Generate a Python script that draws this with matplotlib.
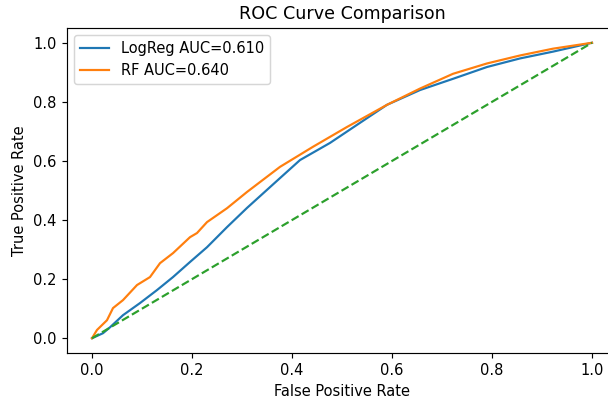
import matplotlib
matplotlib.use("Agg")
import matplotlib.pyplot as plt

# ROC points
fpr_lr = [0.0, 0.022, 0.036, 0.062, 0.096, 0.13, 0.162, 0.196, 0.23, 0.27, 0.31,
          0.376, 0.416, 0.476, 0.536, 0.59, 0.656, 0.722, 0.79, 0.856, 0.922, 1.0]
tpr_lr = [0.0, 0.017, 0.037, 0.078, 0.119, 0.163, 0.207, 0.258, 0.308, 0.376, 0.441,
          0.542, 0.603, 0.661, 0.729, 0.79, 0.84, 0.878, 0.918, 0.947, 0.97, 1.0]

fpr_rf = [0.0, 0.01, 0.03, 0.042, 0.062, 0.09, 0.116, 0.136, 0.162, 0.196, 0.21,
          0.23, 0.27, 0.31, 0.376, 0.442, 0.51, 0.59, 0.656, 0.722, 0.79, 0.856,
          0.922, 1.0]
tpr_rf = [0.0, 0.028, 0.061, 0.102, 0.129, 0.18, 0.207, 0.254, 0.288, 0.342, 0.356,
          0.393, 0.44, 0.495, 0.58, 0.648, 0.715, 0.79, 0.845, 0.895, 0.93, 0.957,
          0.98, 1.0]

auc_lr = 0.610
auc_rf = 0.640

dpi = 105
fig = plt.figure(figsize=(608 / dpi, 402 / dpi), dpi=dpi)
ax = fig.add_axes([67 / 608, 49 / 402, 550 / 608, 325 / 402])

ax.plot(fpr_lr, tpr_lr, label=f'LogReg AUC={auc_lr:.3f}')
ax.plot(fpr_rf, tpr_rf, label=f'RF AUC={auc_rf:.3f}')
ax.plot([0, 1], [0, 1], '--', color='C2')

ax.set_xlim(-0.05, 1.05)
ax.set_ylim(-0.05, 1.05)
ax.set_title('ROC Curve Comparison')
ax.set_xlabel('False Positive Rate')
ax.set_ylabel('True Positive Rate')
ax.legend(loc='upper left')

fig.savefig('out.png', dpi=dpi)
